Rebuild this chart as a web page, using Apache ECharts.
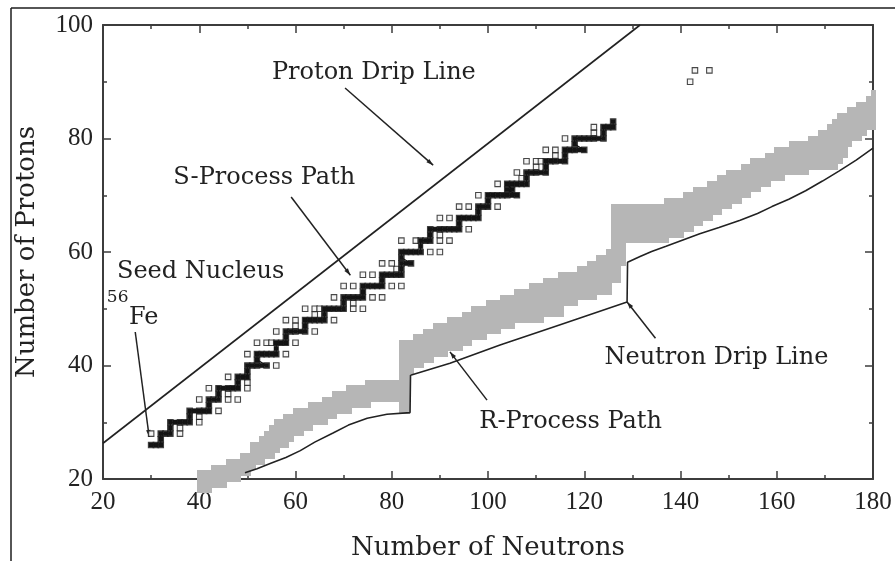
<!DOCTYPE html>
<html>
<head>
<meta charset="utf-8">
<script src="https://cdn.jsdelivr.net/npm/echarts@6/dist/echarts.min.js"></script>
<style>
  html, body { margin: 0; padding: 0; background: #ffffff; }
  #chart { width: 895px; height: 561px; }
</style>
</head>
<body>
<div id="chart"></div>
<script>
// ---- axis ranges and ticks ----
const xMin = 20, xMax = 180, xStep = 20;
const yMin = 20, yMax = 100, yStep = 20;

// ---- proton drip line (N, Z) ----
const protonDripN = [20, 131.6];
const protonDripZ = [26.3, 100];

// ---- neutron drip line (N, Z) ----
const neutronDripN = [49.5, 52, 55, 58, 61, 64, 67.8, 71, 74.9, 79, 83.8, 83.9, 92.1, 102.5, 115, 128.9,
                      129, 131.6, 134, 137, 140.5, 144, 148, 152.4, 156, 159, 162.5, 166, 169.5, 173, 176.5, 180];
const neutronDripZ = [21.1, 21.8, 22.8, 23.8, 25.0, 26.5, 28.1, 29.5, 30.7, 31.4, 31.7, 38.3, 40.4, 43.6, 47.2, 51.2,
                      58.2, 59.2, 60.1, 61.0, 62.1, 63.2, 64.3, 65.6, 66.8, 68.0, 69.3, 70.8, 72.5, 74.3, 76.2, 78.3];

// ---- stable nuclei: proton number and the neutron numbers of its stable isotopes ----
const stableZ = [26, 27, 28, 29, 30, 31, 32, 33, 34, 35, 36, 37, 38, 39, 40, 41, 42, 44, 45, 46, 47, 48, 49, 50,
                 51, 52, 53, 54, 55, 56, 57, 58, 59, 60, 62, 63, 64, 65, 66, 67, 68, 69, 70, 71, 72, 73, 74, 75,
                 76, 77, 78, 79, 80, 81, 82, 83, 90, 92];
const stableN = [
  [30, 31, 32], [32], [30, 32, 33, 34, 36], [34, 36], [34, 36, 37, 38, 40], [38, 40], [38, 40, 41, 42, 44], [42],
  [40, 42, 43, 44, 46, 48], [44, 46], [42, 44, 46, 47, 48, 50], [48, 50], [46, 48, 49, 50], [50],
  [50, 51, 52, 54, 56], [52], [50, 52, 53, 54, 55, 56, 58], [52, 54, 55, 56, 57, 58, 60], [58],
  [56, 58, 59, 60, 62, 64], [60, 62], [58, 60, 62, 63, 64, 65, 66, 68], [64, 66],
  [62, 64, 65, 66, 67, 68, 69, 70, 72, 74], [70, 72], [68, 70, 71, 72, 73, 74, 76, 78], [74],
  [70, 72, 74, 75, 76, 77, 78, 80, 82], [78], [74, 76, 78, 79, 80, 81, 82], [81, 82], [78, 80, 82, 84], [82],
  [82, 83, 84, 85, 86, 88, 90], [82, 85, 86, 87, 88, 90, 92], [88, 90], [88, 90, 91, 92, 93, 94, 96], [94],
  [90, 92, 94, 95, 96, 97, 98], [98], [94, 96, 98, 99, 100, 102], [100], [98, 100, 101, 102, 103, 104, 106],
  [104, 105], [102, 104, 105, 106, 107, 108], [107, 108], [106, 108, 109, 110, 112], [110, 112],
  [108, 110, 111, 112, 113, 114, 116], [114, 116], [112, 114, 116, 117, 118, 120], [118],
  [116, 118, 119, 120, 121, 122, 124], [122, 124], [122, 124, 125, 126], [126], [142], [143, 146]
];

// ---- s-process path: for each element, the first and last neutron number visited ----
const sPathZ  = [26, 27, 28, 29, 30, 31, 32, 33, 34, 35, 36, 37, 38, 39, 40, 41, 42, 43, 44, 45, 46, 47, 48, 49, 50, 51, 52, 53, 54,
                 55, 56, 57, 58, 59, 60, 61, 62, 63, 64, 65, 66, 67, 68, 69, 70, 71, 72, 73, 74, 75, 76, 77, 78, 79, 80, 81, 82, 83];
const sPathNa = [30, 32, 32, 34, 34, 38, 38, 42, 42, 44, 44, 48, 48, 50, 50, 52, 52, 56, 56, 58, 58, 62, 62, 66, 66, 70, 70, 74, 74,
                 78, 78, 82, 82, 82, 82, 86, 86, 88, 88, 94, 94, 98, 98, 100, 100, 104, 104, 108, 108, 112, 112, 116, 116, 118, 118, 124, 124, 126];
const sPathNb = [32, 32, 34, 34, 38, 38, 42, 42, 44, 44, 48, 48, 50, 50, 54, 52, 56, 56, 58, 58, 62, 62, 66, 66, 70, 70, 74, 74, 78,
                 78, 82, 82, 84, 82, 86, 86, 88, 88, 94, 94, 98, 98, 100, 100, 106, 105, 108, 108, 112, 112, 116, 116, 120, 118, 124, 124, 126, 126];

// ---- r-process path: for each neutron number, the lowest and highest proton number covered ----
const rN = [];
for (let n = 40; n <= 180; n++) rN.push(n);
const rLo = [18, 18, 18, 19, 19, 19, 20, 20, 20, 21, 21, 22, 23, 23, 24, 24, 25, 26, 26, 27,
             28, 28, 29, 29, 30, 30, 30, 31, 31, 32, 32, 32, 33, 33, 33, 33, 34, 34, 34, 34,
             34, 34, 32, 32, 39, 40, 40, 41, 41, 42, 42, 42, 43, 43, 43, 44, 44, 45, 45, 45,
             46, 46, 46, 47, 47, 47, 48, 48, 48, 48, 48, 48, 49, 49, 49, 49, 51, 51, 51, 52,
             52, 52, 52, 53, 53, 53, 55, 55, 58, 62, 62, 62, 62, 62, 62, 62, 62, 62, 63, 63,
             63, 64, 64, 65, 65, 66, 66, 67, 67, 68, 68, 69, 69, 70, 70, 71, 71, 72, 72, 73,
             73, 73, 74, 74, 74, 74, 74, 75, 75, 75, 75, 75, 75, 76, 77, 79, 80, 80, 81, 82, 82];
const rHi = [21, 21, 21, 22, 22, 22, 23, 23, 23, 24, 24, 26, 26, 27, 28, 29, 30, 30, 31, 31,
             32, 32, 32, 33, 33, 33, 34, 34, 35, 35, 35, 36, 36, 36, 36, 37, 37, 37, 37, 37,
             37, 37, 44, 44, 44, 45, 45, 46, 46, 47, 47, 47, 48, 48, 48, 49, 49, 50, 50, 50,
             51, 51, 51, 52, 52, 52, 53, 53, 53, 54, 54, 54, 55, 55, 55, 56, 56, 56, 56, 57,
             57, 58, 58, 59, 59, 60, 68, 68, 68, 68, 68, 68, 68, 68, 68, 68, 68, 69, 69, 69,
             69, 70, 70, 71, 71, 71, 72, 72, 73, 73, 74, 74, 74, 75, 75, 76, 76, 76, 77, 77,
             78, 78, 78, 79, 79, 79, 79, 80, 80, 81, 81, 82, 83, 84, 84, 85, 85, 86, 86, 87, 88];

// ---- annotations (data coordinates) ----
const noteText = ['Proton Drip Line', 'S-Process Path', 'Seed Nucleus', 'Fe', 'Neutron Drip Line', 'R-Process Path'];
const notePos  = [[55.1, 91.5], [34.6, 73.0], [22.9, 56.5], [25.4, 48.4], [124.2, 41.3], [98.2, 30.0]];
const massLabel = '56';
const massPos = [20.8, 51.9];
const pointerFrom = [[70.3, 88.9], [59.1, 69.7], [26.7, 45.9], [99.8, 33.9], [134.8, 44.8]];
const pointerTo   = [[88.6, 75.3], [71.4, 55.9], [29.6, 27.4], [92.1, 42.4], [128.9, 51.2]];

// ---- build series data ----
const protonDrip = protonDripN.map((n, i) => [n, protonDripZ[i]]);
const neutronDrip = neutronDripN.map((n, i) => [n, neutronDripZ[i]]);
const stablePts = [];
stableZ.forEach((z, i) => stableN[i].forEach(n => stablePts.push([n, z])));
const sPath = [];
sPathZ.forEach((z, i) => {
  for (let n = sPathNa[i]; n <= sPathNb[i]; n++) sPath.push([n, z]);
});
const rCells = rN.map((n, i) => [n, rLo[i], rHi[i]]);

const ink = '#222222';
const axisColor = '#3c3c3c';
const textFont = '"DejaVu Serif", "Liberation Serif", serif';
const serifFont = '"Liberation Serif", "DejaVu Serif", serif';

function axisStyle(showLabel) {
  return {
    axisLine: { show: true, onZero: false, lineStyle: { color: axisColor, width: 2 } },
    axisTick: { show: true, inside: true, length: 8, lineStyle: { color: axisColor, width: 1.5 } },
    minorTick: { show: true, splitNumber: 2, length: 4, lineStyle: { color: axisColor, width: 1.5 } },
    splitLine: { show: false },
    axisLabel: { show: showLabel, fontFamily: serifFont, fontSize: 25, color: ink }
  };
}

const chart = echarts.init(document.getElementById('chart'), null, { renderer: 'canvas' });

const xBottom = Object.assign({
  type: 'value', position: 'bottom', min: xMin, max: xMax, interval: xStep,
  name: 'Number of Neutrons', nameLocation: 'middle', nameGap: 56,
  nameTextStyle: { fontFamily: textFont, fontSize: 26, color: ink }
}, axisStyle(true));
xBottom.axisLabel.margin = 11;
const xTop = Object.assign({ type: 'value', position: 'top', min: xMin, max: xMax, interval: xStep }, axisStyle(false));
const yLeft = Object.assign({
  type: 'value', position: 'left', min: yMin, max: yMax, interval: yStep,
  name: 'Number of Protons', nameLocation: 'middle', nameGap: 63,
  nameTextStyle: { fontFamily: textFont, fontSize: 26, color: ink }
}, axisStyle(true));
yLeft.axisLabel.margin = 10;
const yRight = Object.assign({ type: 'value', position: 'right', min: yMin, max: yMax, interval: yStep }, axisStyle(false));

chart.setOption({
  animation: false,
  backgroundColor: '#ffffff',
  grid: { left: 103, right: 22, top: 25, bottom: 82, containLabel: false, outerBoundsMode: 'none' },
  xAxis: [xBottom, xTop],
  yAxis: [yLeft, yRight],
  series: [
    {
      // r-process band: one column of cells per neutron number, snapped to whole pixels so columns join without seams
      name: 'R-Process Path',
      type: 'custom',
      xAxisIndex: 0, yAxisIndex: 0,
      clip: false,
      data: rCells,
      renderItem: function (params, api) {
        const n = api.value(0), lo = api.value(1), hi = api.value(2);
        const p1 = api.coord([n - 0.5, hi + 0.5]);
        const p2 = api.coord([n + 0.5, lo - 0.5]);
        const x0 = Math.round(p1[0]), x1 = Math.round(p2[0]);
        const y0 = Math.round(p1[1]), y1 = Math.round(p2[1]);
        return {
          type: 'rect',
          shape: { x: x0, y: y0, width: x1 - x0 + 1, height: y1 - y0 },
          style: { fill: '#b6b6b6' }
        };
      },
      z: 1
    },
    {
      name: 'Proton Drip Line',
      type: 'line',
      data: protonDrip,
      symbol: 'none',
      lineStyle: { color: ink, width: 1.6 },
      z: 2
    },
    {
      name: 'Neutron Drip Line',
      type: 'line',
      data: neutronDrip,
      symbol: 'none',
      lineStyle: { color: ink, width: 1.6 },
      z: 2
    },
    {
      name: 'Stable Nuclei',
      type: 'scatter',
      data: stablePts,
      symbol: 'rect',
      symbolSize: 5.5,
      itemStyle: { color: '#f2f2f2', borderColor: '#1a1a1a', borderWidth: 1.1 },
      z: 3
    },
    {
      name: 'S-Process Path',
      type: 'line',
      data: sPath,
      symbol: 'rect',
      symbolSize: 4.5,
      showSymbol: true,
      itemStyle: { color: '#141414', borderColor: '#141414', borderWidth: 0.5 },
      lineStyle: { color: '#141414', width: 1.2 },
      z: 4
    }
  ]
});

// ---- annotations: labels and pointer lines placed through the grid's coordinate system ----
function px(p) { return chart.convertToPixel({ gridIndex: 0 }, p); }
const elements = [];
noteText.forEach((t, i) => {
  const p = px(notePos[i]);
  elements.push({
    type: 'text', silent: true,
    style: { text: t, x: p[0], y: p[1], font: '24px ' + textFont, fill: ink, align: 'left', verticalAlign: 'middle' }
  });
});
{
  const p = px(massPos);
  elements.push({
    type: 'text', silent: true,
    style: { text: massLabel, x: p[0], y: p[1], font: '17px ' + textFont, fill: ink, align: 'left', verticalAlign: 'middle' }
  });
}
pointerFrom.forEach((f, i) => {
  const a = px(f), b = px(pointerTo[i]);
  elements.push({
    type: 'line', silent: true,
    shape: { x1: a[0], y1: a[1], x2: b[0], y2: b[1] },
    style: { stroke: ink, lineWidth: 1.5 }
  });
  const dx = b[0] - a[0], dy = b[1] - a[1], len = Math.hypot(dx, dy);
  const ux = dx / len, uy = dy / len, L = 7, W = 2.2;
  elements.push({
    type: 'polygon', silent: true,
    shape: { points: [[b[0], b[1]], [b[0] - ux * L - uy * W, b[1] - uy * L + ux * W], [b[0] - ux * L + uy * W, b[1] - uy * L - ux * W]] },
    style: { fill: ink }
  });
});
// page frame
elements.push({ type: 'line', silent: true, shape: { x1: 11, y1: 8, x2: 895, y2: 8 }, style: { stroke: '#1e1e1e', lineWidth: 1.5 } });
elements.push({ type: 'line', silent: true, shape: { x1: 11, y1: 8, x2: 11, y2: 561 }, style: { stroke: '#1e1e1e', lineWidth: 1.5 } });
chart.setOption({ graphic: { elements: elements } });
</script>
</body>
</html>
